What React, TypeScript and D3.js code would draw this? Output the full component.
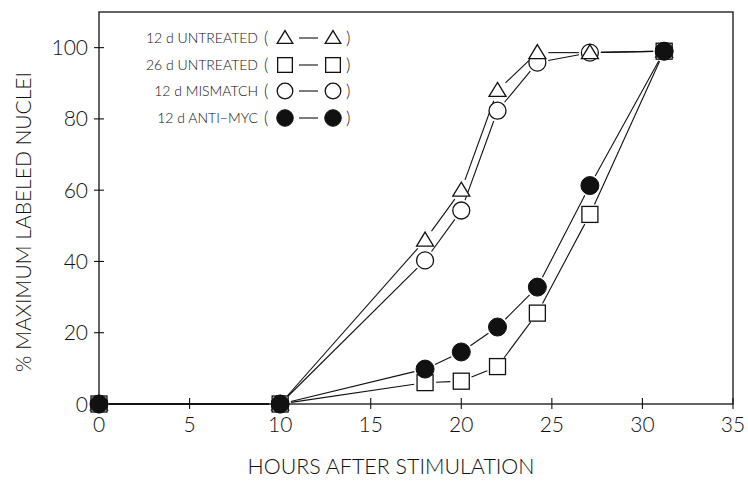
import React from "react";
import * as d3 from "d3";

const hours = [0, 10, 18, 20, 22, 24.2, 27.1, 31.2];
const untreated12 = [0, 0, 46, 60, 88, 98.6, 98.6, 99];
const untreated26 = [0, 0, 6, 6.4, 10.5, 25.5, 53.2, 99];
const mismatch12 = [0, 0, 40.3, 54.3, 82.3, 95.8, 98.6, 99];
const antiMyc12 = [0, 0, 9.8, 14.6, 21.6, 32.8, 61.3, 99];

const xTicks = [0, 5, 10, 15, 20, 25, 30, 35];
const yTicks = [0, 20, 40, 60, 80, 100];

const legendLabels = ["12 d UNTREATED", "26 d UNTREATED", "12 d MISMATCH", "12 d ANTI\u2212MYC"];
const legendKinds = ["triangle", "square", "circle", "filled"];

const W = 748;
const H = 486;
const INK = "#111";
const FONT = "Lato, 'Liberation Sans', Arial, sans-serif";

function Marker({ kind, cx, cy, s = 1 }: { kind: string; cx: number; cy: number; s?: number }) {
  if (kind === "triangle") {
    const w = 17 * s, h = 14 * s;
    const p = d3.path();
    p.moveTo(cx, cy - h / 2 - 1);
    p.lineTo(cx + w / 2, cy + h / 2 - 1);
    p.lineTo(cx - w / 2, cy + h / 2 - 1);
    p.closePath();
    return <path d={p.toString()} fill="white" stroke={INK} strokeWidth={1.3} />;
  }
  if (kind === "square") {
    const a = 16 * s;
    return <rect x={cx - a / 2} y={cy - a / 2} width={a} height={a} fill="white" stroke={INK} strokeWidth={1.3} />;
  }
  if (kind === "circle") {
    return <circle cx={cx} cy={cy} r={8.5 * s} fill="white" stroke={INK} strokeWidth={1.3} />;
  }
  return <circle cx={cx} cy={cy} r={9 * s} fill={INK} stroke={INK} strokeWidth={1} />;
}

export default function App() {
  const x = d3.scaleLinear().domain([0, 35]).range([99, 733]);
  const y = d3.scaleLinear().domain([0, 110]).range([404, 12]);

  const series = [
    { kind: "circle", values: mismatch12 },
    { kind: "triangle", values: untreated12 },
    { kind: "square", values: untreated26 },
    { kind: "filled", values: antiMyc12 },
  ];

  const gap = 11;
  const line = d3.line<[number, number]>();

  const segments: JSX.Element[] = [];
  series.forEach((s, si) => {
    for (let i = 0; i < hours.length - 1; i++) {
      const x1 = x(hours[i]), y1 = y(s.values[i]);
      const x2 = x(hours[i + 1]), y2 = y(s.values[i + 1]);
      const dx = x2 - x1, dy = y2 - y1;
      const len = Math.hypot(dx, dy);
      if (len < 2 * gap + 2) continue;
      const ux = dx / len, uy = dy / len;
      const g1 = i === 0 ? 10 : gap;
      const pts: [number, number][] = [
        [x1 + ux * g1, y1 + uy * g1],
        [x2 - ux * gap, y2 - uy * gap],
      ];
      segments.push(
        <path key={`seg-${si}-${i}`} d={line(pts) || ""} stroke={INK} strokeWidth={1.1} fill="none" />
      );
    }
  });

  const legendY = [38, 65, 91, 118];

  return (
    <svg width={W} height={H} style={{ position: "absolute", left: 0, top: 0, background: "white" }}>
      <rect x={0} y={0} width={W} height={H} fill="white" />
      {/* frame */}
      <rect x={x(0)} y={y(110)} width={x(35) - x(0)} height={y(0) - y(110)} fill="none" stroke={INK} strokeWidth={1.3} />
      {/* x ticks */}
      {xTicks.map((t) => (
        <g key={`xt-${t}`}>
          <line x1={x(t)} x2={x(t)} y1={y(0) - 6} y2={y(0) + 5} stroke={INK} strokeWidth={1.1} />
          <text x={x(t)} y={y(0) + 28} textAnchor="middle" fontFamily={FONT} fontWeight={300} fontSize={21} fill={INK}>
            {t}
          </text>
        </g>
      ))}
      {/* y ticks */}
      {yTicks.map((t) => (
        <g key={`yt-${t}`}>
          <line x1={x(0) - 5} x2={x(0) + 5} y1={y(t)} y2={y(t)} stroke={INK} strokeWidth={1.1} />
          <text x={x(0) - 11} y={y(t) + 7.5} textAnchor="end" fontFamily={FONT} fontWeight={300} fontSize={21} fill={INK}>
            {t}
          </text>
        </g>
      ))}
      {/* axis titles */}
      <text
        x={391}
        y={474}
        textAnchor="middle"
        fontFamily={FONT}
        fontWeight={300}
        fontSize={22}
        textLength={287}
        lengthAdjust="spacingAndGlyphs"
        fill={INK}
      >
        HOURS AFTER STIMULATION
      </text>
      <text
        transform={`translate(31,222) rotate(-90)`}
        textAnchor="middle"
        fontFamily={FONT}
        fontWeight={300}
        fontSize={22}
        textLength={300}
        lengthAdjust="spacingAndGlyphs"
        fill={INK}
      >
        % MAXIMUM LABELED NUCLEI
      </text>
      {/* data lines */}
      {segments}
      {/* markers */}
      {series.map((s, si) => (
        <g key={`m-${si}`}>
          {hours.map((h, i) => (
            <Marker key={i} kind={s.kind} cx={x(h)} cy={y(s.values[i])} />
          ))}
        </g>
      ))}
      {/* legend */}
      {legendLabels.map((lab, i) => (
        <g key={`lg-${i}`}>
          <text x={258} y={legendY[i] + 5} textAnchor="end" fontFamily={FONT} fontWeight={300} fontSize={14} fill={INK}>
            {lab}
          </text>
          <text x={264} y={legendY[i] + 6} fontFamily={FONT} fontWeight={300} fontSize={17} fill={INK}>
            (
          </text>
          <Marker kind={legendKinds[i]} cx={285} cy={legendY[i]} s={0.92} />
          <line x1={299} x2={318} y1={legendY[i]} y2={legendY[i]} stroke={INK} strokeWidth={1.1} />
          <Marker kind={legendKinds[i]} cx={333} cy={legendY[i]} s={0.92} />
          <text x={346} y={legendY[i] + 6} fontFamily={FONT} fontWeight={300} fontSize={17} fill={INK}>
            )
          </text>
        </g>
      ))}
    </svg>
  );
}
